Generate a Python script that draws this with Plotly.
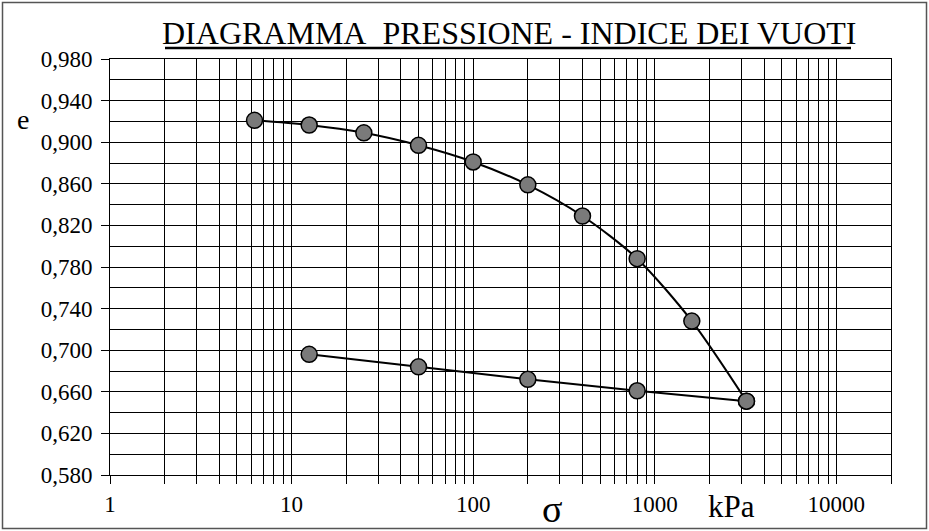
import numpy as np
import plotly.graph_objects as go

# ---- data ----
load_sigma = [6.25, 12.5, 25, 50, 100, 200, 400, 800, 1600, 3200]
load_e = [0.921, 0.9165, 0.909, 0.897, 0.881, 0.859, 0.829, 0.788, 0.728, 0.651]
unload_sigma = [3200, 800, 200, 50, 12.5]
unload_e = [0.651, 0.661, 0.672, 0.684, 0.696]

y_major = [0.58, 0.62, 0.66, 0.70, 0.74, 0.78, 0.82, 0.86, 0.90, 0.94, 0.98]
y_labels = ["0,580", "0,620", "0,660", "0,700", "0,740", "0,780",
            "0,820", "0,860", "0,900", "0,940", "0,980"]
x_decades = [1, 10, 100, 1000, 10000]
x_labels = ["1", "10", "100", "1000", "10000"]
x_max = 20000

title_text = "DIAGRAMMA\u00a0\u00a0PRESSIONE - INDICE DEI VUOTI"

SERIF = "Liberation Serif, Times New Roman, serif"

# ---- geometry ----
W, H = 929, 531
L, R, T, B = 110, 38, 59, 56
PW, PH = W - L - R, H - T - B


def px(x):
    return (x - L) / PW


def py(y):
    return (H - B - y) / PH


xt, xtt = [], []
for d, lab in zip(x_decades, x_labels):
    for m in range(1, 10):
        v = m * d
        if v <= x_max:
            xt.append(v)
            xtt.append(lab if m == 1 else "")
if xt[-1] != x_max:
    xt.append(x_max)
    xtt.append("")

fig = go.Figure()
fig.add_trace(go.Scatter(
    x=load_sigma, y=load_e, mode="lines+markers",
    line=dict(color="black", width=2, shape="spline", smoothing=0.8),
    marker=dict(size=16, color="#7a7a7a", line=dict(color="black", width=1.5)),
    hoverinfo="skip"))
fig.add_trace(go.Scatter(
    x=unload_sigma, y=unload_e, mode="lines+markers",
    line=dict(color="black", width=2, shape="spline", smoothing=0.5),
    marker=dict(size=16, color="#7a7a7a", line=dict(color="black", width=1.5)),
    hoverinfo="skip"))

fig.update_layout(
    width=W, height=H,
    margin=dict(l=L, r=R, t=T, b=B),
    paper_bgcolor="white", plot_bgcolor="white",
    showlegend=False,
    font=dict(family=SERIF, color="black"),
)
fig.update_xaxes(
    type="log", range=[0, np.log10(x_max)],
    tickmode="array", tickvals=xt, ticktext=xtt,
    ticks="outside", ticklen=8, tickcolor="black", tickwidth=1,
    showgrid=True, gridcolor="black", gridwidth=1,
    showline=True, linecolor="black", linewidth=1, mirror=True,
    zeroline=False, tickfont=dict(size=23, family=SERIF, color="black"),
)
fig.update_yaxes(
    range=[0.58, 0.98],
    tickmode="array", tickvals=y_major, ticktext=y_labels,
    ticks="outside", ticklen=8, tickcolor="black", tickwidth=1,
    showgrid=True, gridcolor="black", gridwidth=1,
    minor=dict(tick0=0.58, dtick=0.02, showgrid=True, gridcolor="black",
               gridwidth=1, ticks=""),
    showline=True, linecolor="black", linewidth=1, mirror=True,
    zeroline=False, tickfont=dict(size=23, family=SERIF, color="black"),
    ticklabelstandoff=4,
)

fig.add_annotation(text=title_text, xref="paper", yref="paper",
                   x=px(509), y=py(33), showarrow=False,
                   font=dict(size=32, family=SERIF, color="black"),
                   xanchor="center", yanchor="middle")
fig.add_shape(type="line", xref="paper", yref="paper",
              x0=px(165), x1=px(851), y0=py(48), y1=py(48),
              line=dict(color="black", width=2.7))
fig.add_annotation(text="e", xref="paper", yref="paper", x=px(22.5), y=py(119),
                   showarrow=False, font=dict(size=28, family=SERIF),
                   xanchor="center", yanchor="middle")
fig.add_annotation(text="σ", xref="paper", yref="paper", x=px(552), y=py(509),
                   showarrow=False, font=dict(size=38, family=SERIF),
                   xanchor="center", yanchor="middle")
fig.add_annotation(text="kPa", xref="paper", yref="paper", x=px(731), y=py(506),
                   showarrow=False, font=dict(size=31, family=SERIF),
                   xanchor="center", yanchor="middle")

fig.add_shape(type="rect", xref="paper", yref="paper",
              x0=px(2.5), x1=px(926.5), y0=py(528.5), y1=py(2.5),
              line=dict(color="#555555", width=1.5), layer="below")

fig.write_html("out.html", config={"displayModeBar": False},
               post_script="document.body.style.margin='0';document.body.style.padding='0';")
